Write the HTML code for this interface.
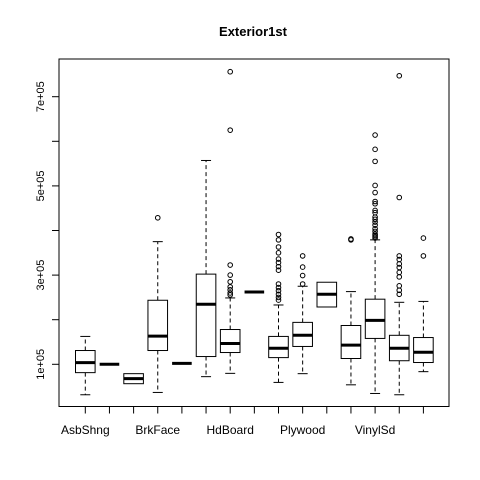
<!DOCTYPE html>
<html><head><meta charset="utf-8"><style>
html,body{margin:0;padding:0;background:#fff}
svg{display:block;font-family:"Liberation Sans",Arial,sans-serif}
</style></head><body>
<svg id="chart" width="480" height="480" xmlns="http://www.w3.org/2000/svg">
<rect width="480" height="480" fill="#fff"/>
<text x="253" y="36" text-anchor="middle" font-weight="bold" font-size="13">Exterior1st</text>
<rect x="59" y="59" width="390" height="347.5" fill="none" stroke="#000" stroke-width="1"/>
<g id="marks"></g>
</svg>
<script>
const categories=["AsbShng","AsphShn","BrkComm","BrkFace","CBlock","CemntBd","HdBoard","ImStucc","MetalSd","Plywood","Stone","Stucco","VinylSd","Wd Sdng","WdShing"];
const shownLabels=["AsbShng","BrkFace","HdBoard","Plywood","VinylSd"];
const whiskerLow=[31700,100000,56500,36900,102000,72300,79700,262000,59400,79000,228500,54000,34600,31700,83500];
const q1=[81300,100000,56500,130900,102000,117400,126400,262000,115000,140000,228500,113000,158000,108000,104000];
const median=[103800,100000,67800,163100,102000,234600,146700,262000,136000,165000,257000,143000,198500,136000,127000];
const q3=[130900,100000,79000,243600,102000,302200,178000,262000,162500,194000,284000,187000,246000,165000,160000];
const whiskerHigh=[162500,100000,79000,375000,102000,557000,248800,262000,233000,275000,284000,263000,379000,239000,241000];
const outliers=[[],[],[],[428500],[],[],[756000,625000,322600,300000,285000,273600,267000,260000,255600],[],
[391000,379000,363000,350000,336000,328000,319000,311000,280000,272000,265000,257000,250000,244000],
[343000,318000,299000,280000],[],[379000,381000],
[614000,582000,555000,501000,485000,465000,460000,445000,440000,430000,425000,419000,412000,404000,398000,392000,389000,386000,383000],
[747000,474000,343000,335000,325000,317000,306000,296000,276000,266000,257000],
[383000,343000]];
const yTicks=[100000,200000,300000,400000,500000,600000,700000];
const yTickLabels=["1e+05","","3e+05","","5e+05","","7e+05"];

const NS="http://www.w3.org/2000/svg";
const g=document.getElementById('marks');
const svg=document.getElementById('chart');
function xs(i){return 85.3+i*24.15;}
function ys(v){return 364.3-(v-100000)*0.000446;}
function mk(tag,attrs,parent){const e=document.createElementNS(NS,tag);for(const k in attrs)e.setAttribute(k,attrs[k]);(parent||g).appendChild(e);return e;}
const hw=9.8, cap=5;
categories.forEach((c,i)=>{
  const x=xs(i);
  const grp=mk('g',{});
  
  
  if(whiskerHigh[i]>q3[i]){
    mk('line',{x1:x,x2:x,y1:ys(q3[i]),y2:ys(whiskerHigh[i]),stroke:'#000','stroke-dasharray':'4,3'},grp);
    mk('line',{x1:x-cap,x2:x+cap,y1:ys(whiskerHigh[i]),y2:ys(whiskerHigh[i]),stroke:'#000'},grp);
  }
  if(whiskerLow[i]<q1[i]){
    mk('line',{x1:x,x2:x,y1:ys(q1[i]),y2:ys(whiskerLow[i]),stroke:'#000','stroke-dasharray':'4,3'},grp);
    mk('line',{x1:x-cap,x2:x+cap,y1:ys(whiskerLow[i]),y2:ys(whiskerLow[i]),stroke:'#000'},grp);
  }
  if(q3[i]>q1[i]) mk('rect',{x:x-hw,y:ys(q3[i]),width:2*hw,height:ys(q1[i])-ys(q3[i]),fill:'#fff',stroke:'#000'},grp);
  mk('line',{x1:x-hw,x2:x+hw,y1:ys(median[i]),y2:ys(median[i]),stroke:'#000','stroke-width':3},grp);
  outliers[i].forEach(v=>{
    const o=mk('circle',{cx:x,cy:ys(v),r:2.3,fill:'none',stroke:'#000','stroke-width':1},grp);
    
    
  });
  mk('line',{x1:x,x2:x,y1:406.5,y2:413.5,stroke:'#000'});
  if(shownLabels.includes(c)){
    const t=mk('text',{x:x,y:434,'text-anchor':'middle','font-size':12},svg);
    t.textContent=c;
    
    
  }
});
mk('line',{x1:xs(0),x2:xs(14),y1:406.5,y2:406.5,stroke:'#000'});
yTicks.forEach((v,k)=>{
  const y=ys(v);
  mk('line',{x1:52,x2:59,y1:y,y2:y,stroke:'#000'});
  if(yTickLabels[k]){
    const t=mk('text',{x:0,y:0,'text-anchor':'middle','font-size':11,transform:'translate(44,'+y+') rotate(-90)'},svg);
    t.textContent=yTickLabels[k];
    
    
  }
});
</script>
</body></html>
